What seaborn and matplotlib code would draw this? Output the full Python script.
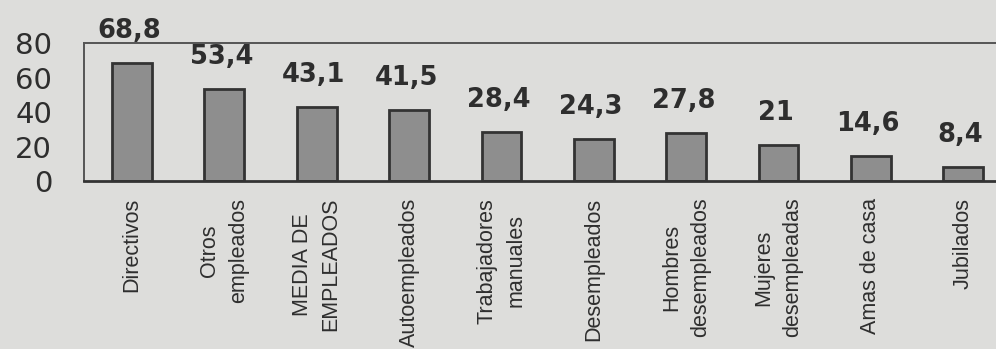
import matplotlib
matplotlib.use("Agg")
import matplotlib.pyplot as plt
import seaborn as sns
import pandas as pd

categories = ["Directivos", "Otros\nempleados", "MEDIA DE\nEMPLEADOS", "Autoempleados",
              "Trabajadores\nmanuales", "Desempleados", "Hombres\ndesempleados",
              "Mujeres\ndesempleadas", "Amas de casa", "Jubilados"]
values = [68.8, 53.4, 43.1, 41.5, 28.4, 24.3, 27.8, 21.0, 14.6, 8.4]
value_labels = ["68,8", "53,4", "43,1", "41,5", "28,4", "24,3", "27,8", "21", "14,6", "8,4"]
yticks = [0, 20, 40, 60, 80]

sns.set_theme(style="white")
plt.rcParams['font.family'] = ['DejaVu Sans']

bg = "#dddddb"
ink = "#2e2e2e"

fig = plt.figure(figsize=(9.96, 3.49), dpi=100, facecolor=bg)
ax = fig.add_axes([0.0843, 0.481, 0.929, 0.395])
ax.set_facecolor(bg)

df = pd.DataFrame({"cat": categories, "val": values})
sns.barplot(data=df, x="cat", y="val", color="#8e8e8e", edgecolor="#333333",
            linewidth=2.0, width=0.43, saturation=1, ax=ax)

# frame
for s in ["top", "right", "left"]:
    ax.spines[s].set_visible(True)
    ax.spines[s].set_position(("outward", 0))
    ax.spines[s].set_color("#555555")
    ax.spines[s].set_linewidth(1.4)
    ax.spines[s].set_zorder(5)
ax.spines["bottom"].set_visible(True)
ax.spines["bottom"].set_position(("outward", 0))
ax.spines["bottom"].set_color("#333333")
ax.spines["bottom"].set_linewidth(2.0)
ax.spines["bottom"].set_zorder(5)

for i, (v, lab) in enumerate(zip(values, value_labels)):
    ax.annotate(lab, (i, v), xytext=(-2, 23), textcoords="offset points",
                ha="center", va="center", fontsize=18.5, fontweight="bold",
                color=ink, annotation_clip=False, family="DejaVu Sans")

ax.set_xlim(-0.52, 9.5)
ax.set_ylim(0, 80)
ax.set_yticks(yticks)
ax.set_yticklabels([str(t) for t in yticks], fontsize=21, color=ink,
                   family="DejaVu Sans")
ax.tick_params(axis="y", length=0, pad=23)
ax.set_xticks(range(len(categories)))
ax.set_xticklabels(categories, rotation=90, fontsize=15.5, color=ink,
                   ha="center", va="top", multialignment="center",
                   linespacing=1.5, family=["Liberation Sans", "DejaVu Sans"])
ax.tick_params(axis="x", length=0, pad=12)
ax.set_xlabel("")
ax.set_ylabel("")

fig.savefig("out.png", dpi=100, facecolor=bg)
